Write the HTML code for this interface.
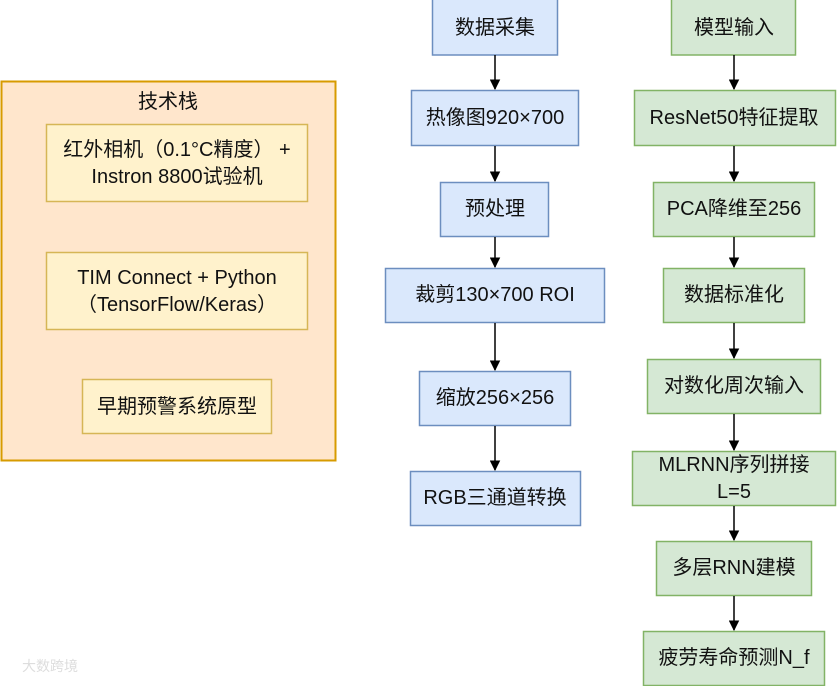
<!DOCTYPE html>
<html><head><meta charset="utf-8"><style>
html,body{margin:0;padding:0;background:#fff;}
svg text{font-family:"Liberation Sans","Noto Sans CJK SC",sans-serif;font-size:20px;fill:#111;text-anchor:middle;dominant-baseline:central;}
</style></head><body>
<svg width="837" height="686" viewBox="0 0 837 686" xmlns="http://www.w3.org/2000/svg">
<defs><marker id="a" viewBox="0 0 10 10" refX="9" refY="5" markerWidth="7" markerHeight="7" orient="auto"><path d="M0,0 L10,5 L0,10 z" fill="#000"/></marker></defs>
<!-- left -->
<rect x="1.5" y="81.5" width="334" height="379" fill="#ffe6cc" stroke="#d79b00" stroke-width="2"/>
<text x="168" y="102">技术栈</text>
<rect x="46.5" y="124.5" width="261" height="77" fill="#fff2cc" stroke="#d6b656" stroke-width="1.5"/>
<text x="177" y="150">红外相机（0.1°C精度） +</text>
<text x="177" y="177">Instron 8800试验机</text>
<rect x="46.5" y="252.5" width="261" height="77" fill="#fff2cc" stroke="#d6b656" stroke-width="1.5"/>
<text x="177" y="278">TIM Connect + Python</text>
<text x="177" y="305">（TensorFlow/Keras）</text>
<rect x="82.5" y="379.5" width="189" height="54" fill="#fff2cc" stroke="#d6b656" stroke-width="1.5"/>
<text x="177" y="407">早期预警系统原型</text>
<!-- blue -->
<g fill="#dae8fc" stroke="#6c8ebf" stroke-width="1.5">
<rect x="432.5" y="-1" width="125" height="56"/>
<rect x="411.5" y="90.5" width="167" height="55"/>
<rect x="440.5" y="182.5" width="108" height="54"/>
<rect x="385.5" y="268.5" width="219" height="54"/>
<rect x="419.5" y="371.5" width="151" height="54"/>
<rect x="410.5" y="471.5" width="170" height="54"/>
</g>
<text x="495" y="28">数据采集</text>
<text x="495" y="118">热像图920×700</text>
<text x="495" y="209">预处理</text>
<text x="495" y="295">裁剪130×700 ROI</text>
<text x="495" y="398">缩放256×256</text>
<text x="495" y="498">RGB三通道转换</text>
<g stroke="#000" stroke-width="1.5" marker-end="url(#a)">
<line x1="495" y1="55" x2="495" y2="89"/>
<line x1="495" y1="146" x2="495" y2="181"/>
<line x1="495" y1="237" x2="495" y2="267"/>
<line x1="495" y1="323" x2="495" y2="370"/>
<line x1="495" y1="426" x2="495" y2="470"/>
</g>
<!-- green -->
<g fill="#d5e8d4" stroke="#82b366" stroke-width="1.5">
<rect x="671.5" y="-1" width="124" height="56"/>
<rect x="634.5" y="90.5" width="201" height="55"/>
<rect x="653.5" y="182.5" width="161" height="54"/>
<rect x="663.5" y="268.5" width="141" height="54"/>
<rect x="647.5" y="359.5" width="173" height="54"/>
<rect x="632.5" y="451.5" width="203" height="54"/>
<rect x="656.5" y="541.5" width="155" height="54"/>
<rect x="643.5" y="631.5" width="181" height="54"/>
</g>
<text x="734" y="28">模型输入</text>
<text x="734" y="118">ResNet50特征提取</text>
<text x="734" y="209">PCA降维至256</text>
<text x="734" y="295">数据标准化</text>
<text x="734" y="386">对数化周次输入</text>
<text x="734" y="465">MLRNN序列拼接</text>
<text x="734" y="492">L=5</text>
<text x="734" y="568">多层RNN建模</text>
<text x="734" y="658">疲劳寿命预测N_f</text>
<g stroke="#000" stroke-width="1.5" marker-end="url(#a)">
<line x1="734" y1="55" x2="734" y2="89"/>
<line x1="734" y1="146" x2="734" y2="181"/>
<line x1="734" y1="237" x2="734" y2="267"/>
<line x1="734" y1="323" x2="734" y2="358"/>
<line x1="734" y1="414" x2="734" y2="450"/>
<line x1="734" y1="506" x2="734" y2="540"/>
<line x1="734" y1="596" x2="734" y2="630"/>
</g>
<text x="50" y="666" style="font-size:14px;fill:#ddd">大数跨境</text>
</svg>
</body></html>
